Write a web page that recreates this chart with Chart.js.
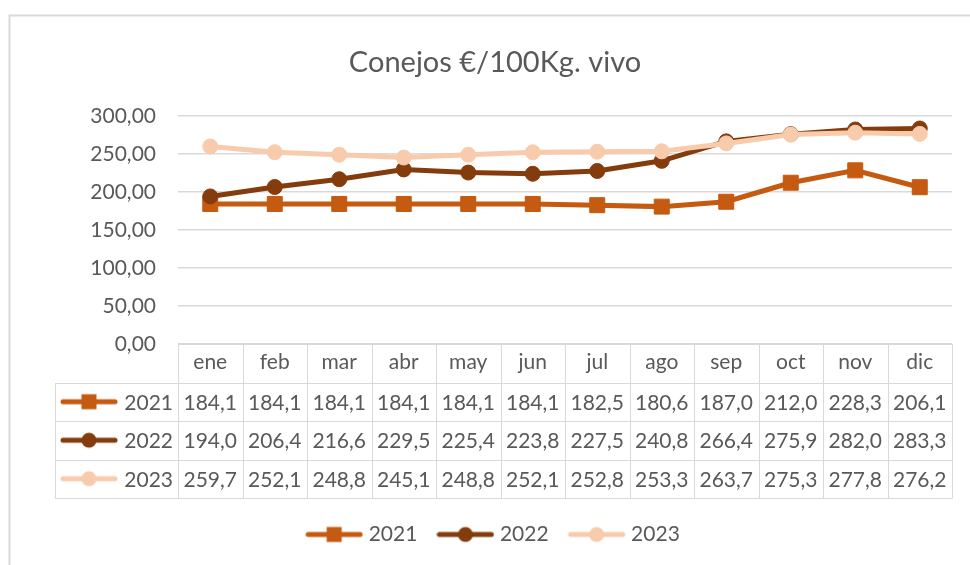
<!DOCTYPE html>
<html>
<head>
<meta charset="utf-8">
<script src="https://cdn.jsdelivr.net/npm/chart.js@4.4.1/dist/chart.umd.min.js"></script>
<style>
  html, body { margin: 0; padding: 0; background: #fff; }
  #wrap { width: 970px; height: 565px; }
</style>
</head>
<body>
<div id="wrap"><canvas id="my-chart" width="970" height="565"></canvas></div>
<script>
const titleText = 'Conejos €/100Kg. vivo';
const months = ['ene', 'feb', 'mar', 'abr', 'may', 'jun', 'jul', 'ago', 'sep', 'oct', 'nov', 'dic'];
const years = ['2021', '2022', '2023'];
const values2021 = [184.1, 184.1, 184.1, 184.1, 184.1, 184.1, 182.5, 180.6, 187.0, 212.0, 228.3, 206.1];
const values2022 = [194.0, 206.4, 216.6, 229.5, 225.4, 223.8, 227.5, 240.8, 266.4, 275.9, 282.0, 283.3];
const values2023 = [259.7, 252.1, 248.8, 245.1, 248.8, 252.1, 252.8, 253.3, 263.7, 275.3, 277.8, 276.2];
const yTicks = [0, 50, 100, 150, 200, 250, 300];

const colors = ['#C55A11', '#843C0C', '#F8CBAD'];
const styles = ['rect', 'circle', 'circle'];
const seriesValues = [values2021, values2022, values2023];
const textColor = '#595959';
const lineColor = '#D9D9D9';

// small line+marker picture used in legend and table row headers
function makeSymbol(color, style) {
  const c = document.createElement('canvas');
  c.width = 58;
  c.height = 20;
  const g = c.getContext('2d');
  g.strokeStyle = color;
  g.fillStyle = color;
  g.lineWidth = 5;
  g.lineCap = 'round';
  g.beginPath();
  g.moveTo(3, 10);
  g.lineTo(55, 10);
  g.stroke();
  if (style === 'rect') {
    g.fillRect(29 - 7.5, 10 - 7.5, 15, 15);
  } else {
    g.beginPath();
    g.arc(29, 10, 7.5, 0, Math.PI * 2);
    g.fill();
  }
  return c;
}
const symbols = colors.map((c, i) => makeSymbol(c, styles[i]));

const fmt1 = v => v.toFixed(1).replace('.', ',');
const fmt2 = v => v.toFixed(2).replace('.', ',');

const frame = {
  id: 'frame',
  beforeDraw(chart) {
    const ctx = chart.ctx;
    ctx.save();
    ctx.strokeStyle = lineColor;
    ctx.lineWidth = 2;
    ctx.beginPath();
    ctx.moveTo(9.5, 565);
    ctx.lineTo(9.5, 15.5);
    ctx.lineTo(970, 15.5);
    ctx.stroke();
    ctx.restore();
  }
};

const dataTable = {
  id: 'dataTable',
  afterDraw(chart) {
    const ctx = chart.ctx;
    const x = chart.scales.x;
    const area = chart.chartArea;
    const rowH = 38.5;
    const top = area.bottom;
    const headLeft = 55;
    const half = (x.getPixelForValue(1) - x.getPixelForValue(0)) / 2;

    ctx.save();
    ctx.strokeStyle = lineColor;
    ctx.lineWidth = 1;
    ctx.beginPath();
    // horizontal lines
    ctx.moveTo(area.left, top + 0.5);
    ctx.lineTo(area.right, top + 0.5);
    for (let r = 1; r <= years.length + 1; r++) {
      const y = Math.round(top + rowH * r) + 0.5;
      ctx.moveTo(headLeft, y);
      ctx.lineTo(area.right, y);
    }
    // vertical lines
    const bottom = Math.round(top + rowH * (years.length + 1)) + 0.5;
    ctx.moveTo(headLeft + 0.5, Math.round(top + rowH) + 0.5);
    ctx.lineTo(headLeft + 0.5, bottom);
    for (let i = 0; i <= months.length; i++) {
      const xp = Math.round(x.getPixelForValue(i) - half) + 0.5;
      ctx.moveTo(xp, top);
      ctx.lineTo(xp, bottom);
    }
    ctx.stroke();

    ctx.fillStyle = textColor;
    ctx.font = '21px Lato';
    ctx.textBaseline = 'middle';
    years.forEach((year, r) => {
      const yc = top + rowH * (r + 1) + rowH / 2;
      ctx.drawImage(symbols[r], 60, yc - 10);
      ctx.textAlign = 'right';
      ctx.fillText(year, area.left - 5, yc + 1);
      ctx.textAlign = 'center';
      seriesValues[r].forEach((v, i) => {
        ctx.fillText(fmt1(v), x.getPixelForValue(i), yc + 1);
      });
    });
    ctx.restore();
  }
};

function buildChart() {
  Chart.defaults.font.family = 'Lato';
  Chart.defaults.color = textColor;

  const ctx = document.querySelector('#my-chart').getContext('2d');
  const datasets = years.map((year, i) => ({
    label: year,
    data: seriesValues[i],
    borderColor: colors[i],
    backgroundColor: colors[i],
    borderWidth: 5,
    pointStyle: styles[i],
    pointRadius: styles[i] === 'rect' ? 10.6 : 7.5,
    pointBorderWidth: 1,
    pointBorderColor: colors[i],
    pointBackgroundColor: colors[i],
    tension: 0,
    order: 3 - i
  }));

  new Chart(ctx, {
    type: 'line',
    data: { labels: months, datasets },
    options: {
      responsive: false,
      animation: false,
      layout: { padding: { left: 38, right: 18, top: 0, bottom: 10 } },
      scales: {
        x: {
          offset: true,
          grid: { display: false, drawTicks: false },
          border: { display: false },
          ticks: { padding: 6, font: { size: 21 }, color: textColor, maxRotation: 0, autoSkip: false },
          afterFit: s => { s.height = 156; }
        },
        y: {
          min: 0,
          max: 300,
          afterBuildTicks: s => { s.ticks = yTicks.map(v => ({ value: v })); },
          grid: { color: lineColor, lineWidth: 1.5, drawTicks: false },
          border: { display: false },
          ticks: { padding: 22, font: { size: 21 }, color: textColor, callback: v => fmt2(v) },
          afterFit: s => { s.width = 140; }
        }
      },
      plugins: {
        title: {
          display: true,
          text: titleText,
          color: textColor,
          font: { size: 29, weight: 'normal', lineHeight: 1.2 },
          padding: { top: 45, bottom: 36 }
        },
        legend: {
          position: 'bottom',
          labels: {
            usePointStyle: true,
            pointStyleWidth: 48,
            padding: 24,
            color: textColor,
            font: { size: 21 },
            generateLabels: () => years.map((year, i) => ({
              text: year,
              pointStyle: symbols[i],
              fillStyle: colors[i],
              strokeStyle: colors[i],
              lineWidth: 0,
              fontColor: textColor,
              hidden: false,
              datasetIndex: i
            }))
          }
        },
        tooltip: { enabled: false }
      }
    },
    plugins: [frame, dataTable]
  });
}

if (document.fonts && document.fonts.load) {
  document.fonts.load('21px Lato').then(buildChart, buildChart);
} else {
  buildChart();
}
</script>
</body>
</html>
